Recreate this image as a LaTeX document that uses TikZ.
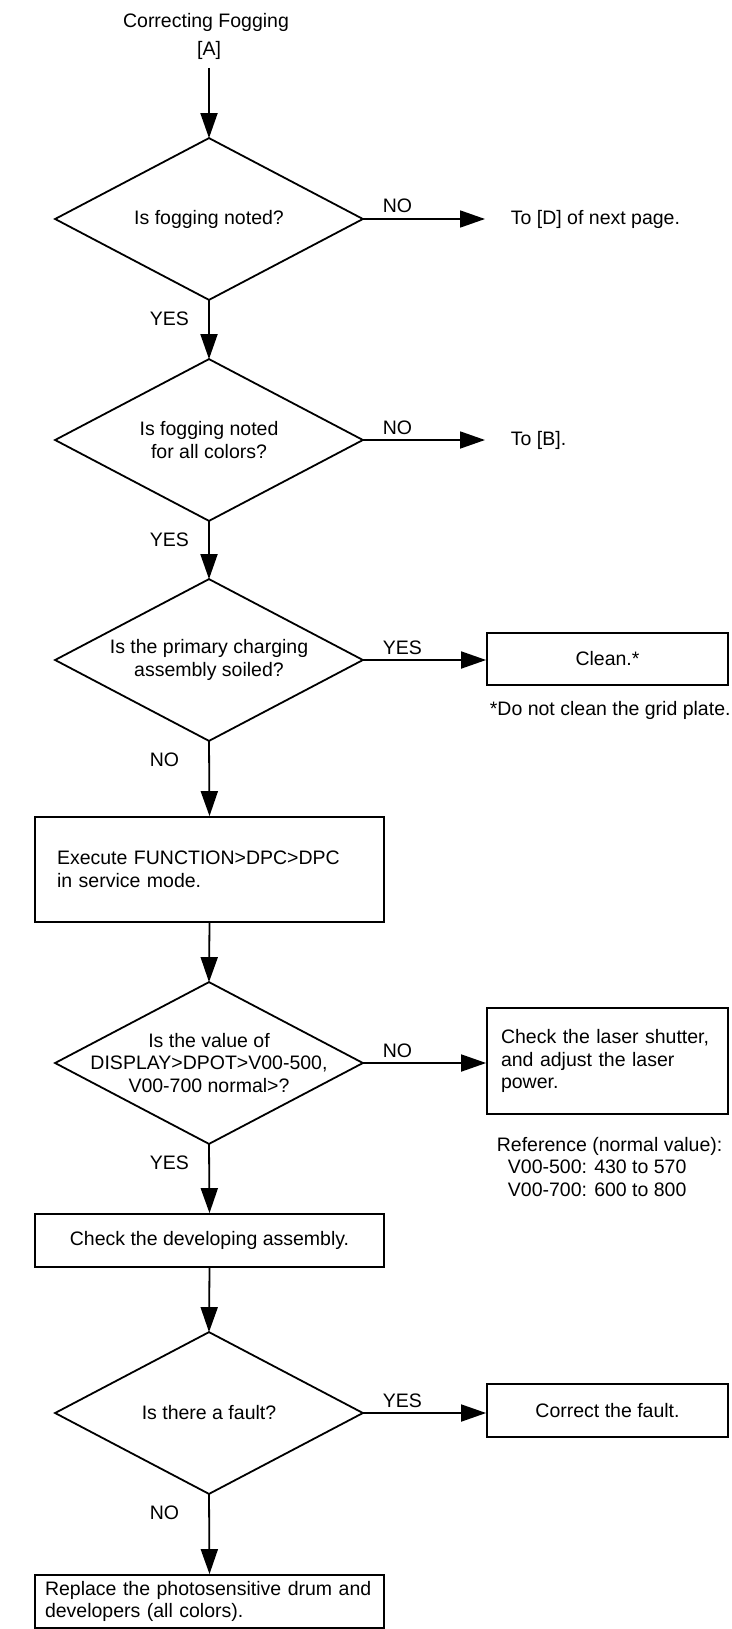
\documentclass[tikz,border=0pt]{standalone}
\usepackage{fontspec}
\setmainfont{Liberation Sans}
\usetikzlibrary{arrows.meta}
\begin{document}
\begin{tikzpicture}[x=1pt,y=-1pt,
  font=\fontsize{19.5}{22.5}\selectfont,
  line width=1.8pt,
  flow/.style={-{Triangle[length=25pt,width=17pt]}},
  dec/.style={minimum width=306pt,minimum height=160pt,inner sep=0pt,align=center},
  decshape/.style={line join=miter},
  procbox/.style={draw,inner sep=0pt,align=center},
  lbl/.style={inner sep=0pt,anchor=base west},
  txt/.style={inner sep=0pt}]
\useasboundingbox (0,0) rectangle (731,1629);

% title
\node[txt] (title) at (206,22) {Correcting Fogging};
\node[txt] (tagA) at (209,50) {[A]};
\coordinate (start) at (209,68);

% decisions
\node[dec] (d1) at (209,219) {Is fogging noted?};
\node[dec] (d2) at (209,440) {Is fogging noted\\for all colors?};
\node[dec] (d3) at (209,660) {Is the primary charging\\assembly soiled?};
\node[dec] (d4) at (209,1063) {Is the value of\\DISPLAY>DPOT>V00-500,\\V00-700 normal>?};
\node[dec] (d5) at (209,1413) {Is there a fault?};
\foreach \d in {d1,d2,d3,d4,d5}{
  \draw[decshape] (\d.north) -- (\d.east) -- (\d.south) -- (\d.west) -- cycle;
}

% process boxes (main column)
\node[procbox, minimum height=105pt, text width=305pt, inner xsep=22pt, align=left] (b1) at (209.5,869.5)
  {Execute FUNCTION>DPC>DPC\\in service mode.};
\node[procbox, minimum width=349pt, minimum height=53pt] (b2) at (209.5,1240.5)
  {Check the developing assembly.};
\node[procbox, minimum height=53pt, text width=329pt, inner xsep=10pt, align=left] (b3) at (209.5,1601.5)
  {Replace the photosensitive drum and\\developers (all colors).};

% right column
\coordinate (e1) at (485,219);
\node[txt, anchor=west] (toD) at (510,219) {To [D] of next page.};
\coordinate (e2) at (485,440);
\node[txt, anchor=west] (toB) at (510,440) {To [B].};
\node[procbox, minimum width=241pt, minimum height=52pt] (clean) at (607.5,659) {Clean.*};
\node[txt, anchor=west] (foot) at (489,710) {*Do not clean the grid plate.};
\node[procbox, minimum height=106pt, text width=213pt, inner xsep=14pt, align=left] (laser) at (607.5,1061)
  {Check the laser shutter,\\and adjust the laser\\power.};
\node[txt, anchor=west, align=left] (ref) at (496,1167)
  {Reference (normal value):\\\hspace*{11pt}V00-500: 430 to 570\\\hspace*{11pt}V00-700: 600 to 800};
\node[procbox, minimum width=241pt, minimum height=53pt] (correct) at (607.5,1410.5) {Correct the fault.};

% vertical connectors
\draw[flow] (start) -- (d1.north);
\draw[flow] (d1.south) -- (d2.north);
\draw[flow] (d2.south) -- (d3.north);
\draw[flow] (d3.south) -- (b1.north);
\draw[flow] (b1.south) -- (d4.north);
\draw[flow] (d4.south) -- (b2.north);
\draw[flow] (b2.south) -- (d5.north);
\draw[flow] (d5.south) -- (b3.north);

% horizontal connectors
\draw[flow] (d1.east) -- (e1);
\draw[flow] (d2.east) -- (e2);
\draw[flow] (d3.east) -- (d3.east -| clean.west);
\draw[flow] (d4.east) -- (d4.east -| laser.west);
\draw[flow] (d5.east) -- (d5.east -| correct.west);

% branch labels
\node[lbl] (l1h) at (382,213) {NO};
\node[lbl] (l1v) at (149,325) {YES};
\node[lbl] (l2h) at (382,434) {NO};
\node[lbl] (l2v) at (149,546) {YES};
\node[lbl] (l3h) at (382,654) {YES};
\node[lbl] (l3v) at (149,766) {NO};
\node[lbl] (l4h) at (382,1057) {NO};
\node[lbl] (l4v) at (149,1169) {YES};
\node[lbl] (l5h) at (382,1407) {YES};
\node[lbl] (l5v) at (149,1519) {NO};
\end{tikzpicture}
\end{document}
